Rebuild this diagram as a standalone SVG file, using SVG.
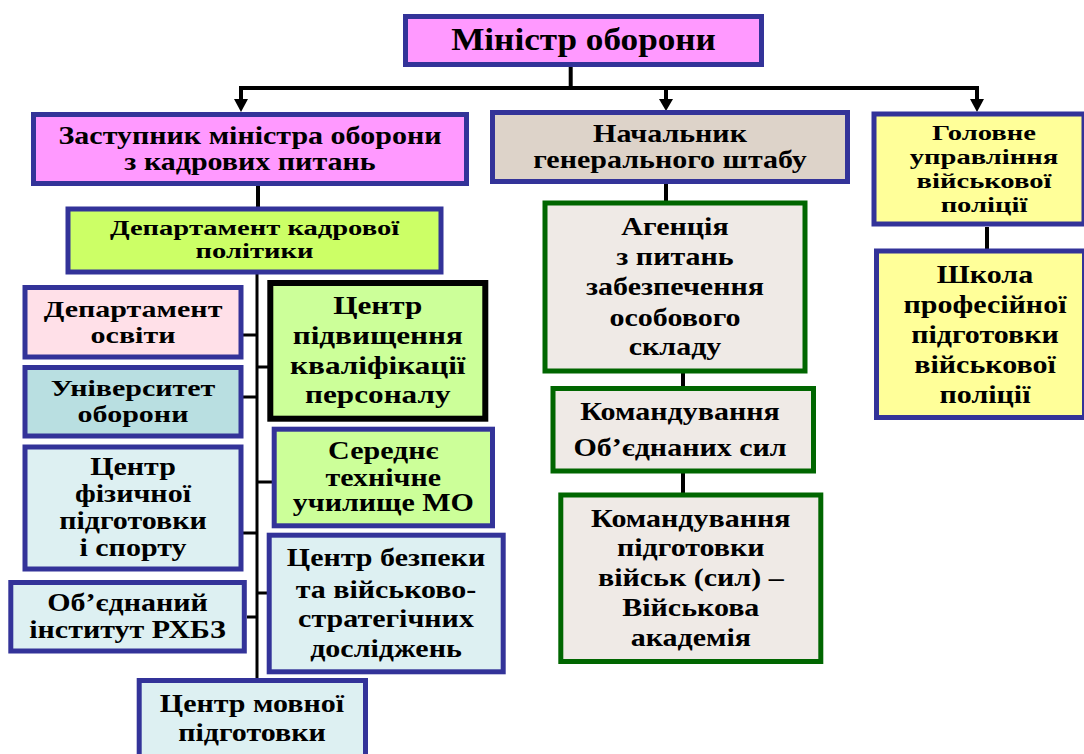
<svg xmlns="http://www.w3.org/2000/svg" width="1084" height="754" viewBox="0 0 1084 754">
<style>
.t{font-family:"Liberation Serif","Times New Roman",serif;font-weight:bold;text-anchor:middle;fill:#000}
.bl{stroke:#333399;stroke-width:5}
.gr{stroke:#006600;stroke-width:5}
.bk{stroke:#000;stroke-width:6}
.ln{fill:none;stroke:#000;stroke-width:4}
.br{fill:none;stroke:#000;stroke-width:3}
.pink{fill:#FF99FF}.lime{fill:#CCFF66}.beige{fill:#DDD3C9}.yel{fill:#FFFF99}
.gray{fill:#EFEAE6}.rose{fill:#FFE0E8}.teal{fill:#B9DFE1}.cyan{fill:#DDF0F2}.green{fill:#CCFF99}
</style>
<rect width="1084" height="754" fill="#fff"/>
<g id="connectors">
<path class="ln" d="M570.7,67 V88"/>
<path class="ln" d="M241,100 V88 H977 V100"/>
<path class="ln" d="M666,88 V100"/>
<polygon points="234,99 248,99 241,112"/>
<polygon points="659,99 673,99 666,111"/>
<polygon points="970,99 984,99 977,112"/>
<path class="ln" d="M258,186 V208"/>
<path class="br" d="M257,274 V679"/>
<path class="br" d="M243,335 H257 M243,397 H257 M243,533 H257 M247,617 H257"/>
<path class="br" d="M257,367 H268 M257,482 H272 M257,593 H267"/>
<path class="ln" d="M666,184 V202"/>
<path class="ln" d="M683,373 V387"/>
<path class="ln" d="M683,473 V494"/>
<path class="ln" d="M987,227 V249"/>
</g>
<g id="minister">
<rect class="bl pink" x="405.5" y="16.5" width="356" height="48"/>
<g transform="translate(583.5,0) scale(1.1,1)"><text class="t" font-size="32" x="0" y="50">Міністр оборони</text></g>
</g>
<g id="zastupnyk">
<rect class="bl pink" x="33.5" y="114.5" width="433" height="69"/>
<g transform="translate(250,0) scale(1.2,1)" class="t" font-size="25"><text x="0" y="144">Заступник міністра оборони</text><text x="0" y="170.5">з кадрових питань</text></g>
</g>
<g id="dept-kadrovoi">
<rect class="bl lime" x="68" y="209" width="373" height="63"/>
<g transform="translate(254.5,0) scale(1.3,1)" class="t" font-size="22"><text x="0" y="235">Департамент кадрової</text><text x="0" y="258">політики</text></g>
</g>
<g id="nachalnyk">
<rect class="bl beige" x="492.5" y="112.5" width="355" height="69"/>
<g transform="translate(670,0) scale(1.2,1)" class="t" font-size="25"><text x="0" y="142">Начальник</text><text x="0" y="168.5">генерального штабу</text></g>
</g>
<g id="holovne">
<rect class="bl yel" x="874" y="114" width="210" height="110"/>
<g transform="translate(984,0) scale(1.3,1)" class="t" font-size="22"><text x="0" y="140">Головне</text><text x="0" y="164">управління</text><text x="0" y="188">військової</text><text x="0" y="212">поліції</text></g>
</g>
<g id="shkola">
<rect class="bl yel" x="876.5" y="251" width="208" height="166.5"/>
<g transform="translate(985,0) scale(1.2,1)" class="t" font-size="25"><text x="0" y="283">Школа</text><text x="0" y="313">професійної</text><text x="0" y="343">підготовки</text><text x="0" y="373">військової</text><text x="0" y="403">поліції</text></g>
</g>
<g id="agency">
<rect class="gr gray" x="545" y="203" width="260" height="168"/>
<g transform="translate(675,0) scale(1.2,1)" class="t" font-size="25"><text x="0" y="235">Агенція</text><text x="0" y="265">з питань</text><text x="0" y="295">забезпечення</text><text x="0" y="326">особового</text><text x="0" y="355">складу</text></g>
</g>
<g id="komanduvannia-os">
<rect class="gr gray" x="553" y="388.5" width="260.5" height="82.5"/>
<g transform="translate(680,0) scale(1.2,1)" class="t" font-size="25"><text x="0" y="420.5">Командування</text><text x="0" y="456">Об’єднаних сил</text></g>
</g>
<g id="komanduvannia-pv">
<rect class="gr gray" x="560.8" y="495" width="260" height="166.5"/>
<g transform="translate(690.8,0) scale(1.2,1)" class="t" font-size="25"><text x="0" y="527">Командування</text><text x="0" y="556">підготовки</text><text x="0" y="586">військ (сил) –</text><text x="0" y="616.5">Військова</text><text x="0" y="646.5">академія</text></g>
</g>
<g id="dept-osvity">
<rect class="bl rose" x="25" y="287.5" width="216" height="69.5"/>
<g transform="translate(133,0) scale(1.25,1)" class="t" font-size="24"><text x="0" y="317">Департамент</text><text x="0" y="343">освіти</text></g>
</g>
<g id="universytet">
<rect class="bl teal" x="25" y="367.5" width="216" height="68.5"/>
<g transform="translate(133,0) scale(1.25,1)" class="t" font-size="24"><text x="0" y="396.5">Університет</text><text x="0" y="422.5">оборони</text></g>
</g>
<g id="tsentr-fizychnoi">
<rect class="bl cyan" x="25" y="447" width="216" height="122"/>
<g transform="translate(133,0) scale(1.2,1)" class="t" font-size="25"><text x="0" y="475">Центр</text><text x="0" y="502">фізичної</text><text x="0" y="529">підготовки</text><text x="0" y="556">і спорту</text></g>
</g>
<g id="instytut-rkhbz">
<rect class="bl cyan" x="10.8" y="582.5" width="233.5" height="68.5"/>
<g transform="translate(127.5,0) scale(1.2,1)" class="t" font-size="25"><text x="0" y="611.5">Об’єднаний</text><text x="0" y="638.5">інститут РХБЗ</text></g>
</g>
<g id="tsentr-pidvyshchennia">
<rect class="bk green" x="270.3" y="283" width="215" height="135.7"/>
<g transform="translate(377.8,0) scale(1.2,1)" class="t" font-size="26"><text x="0" y="314">Центр</text><text x="0" y="344">підвищення</text><text x="0" y="374">кваліфікації</text><text x="0" y="403.5">персоналу</text></g>
</g>
<g id="serednie-uchylyshche">
<rect class="bl green" x="274.2" y="429.2" width="218.3" height="96.6"/>
<g transform="translate(383.3,0) scale(1.2,1)" class="t" font-size="25"><text x="0" y="459.5">Середнє</text><text x="0" y="486">технічне</text><text x="0" y="511.5">училище МО</text></g>
</g>
<g id="tsentr-bezpeky">
<rect class="bl cyan" x="269.2" y="535.2" width="234" height="136.6"/>
<g transform="translate(386,0) scale(1.2,1)" class="t" font-size="25"><text x="0" y="566">Центр безпеки</text><text x="0" y="598">та військово-</text><text x="0" y="627">стратегічних</text><text x="0" y="657">досліджень</text></g>
</g>
<g id="tsentr-movnoi">
<rect class="bl cyan" x="139.2" y="680.5" width="226.3" height="80"/>
<g transform="translate(252,0) scale(1.2,1)" class="t" font-size="25"><text x="0" y="712.5">Центр мовної</text><text x="0" y="741.5">підготовки</text></g>
</g>
</svg>
